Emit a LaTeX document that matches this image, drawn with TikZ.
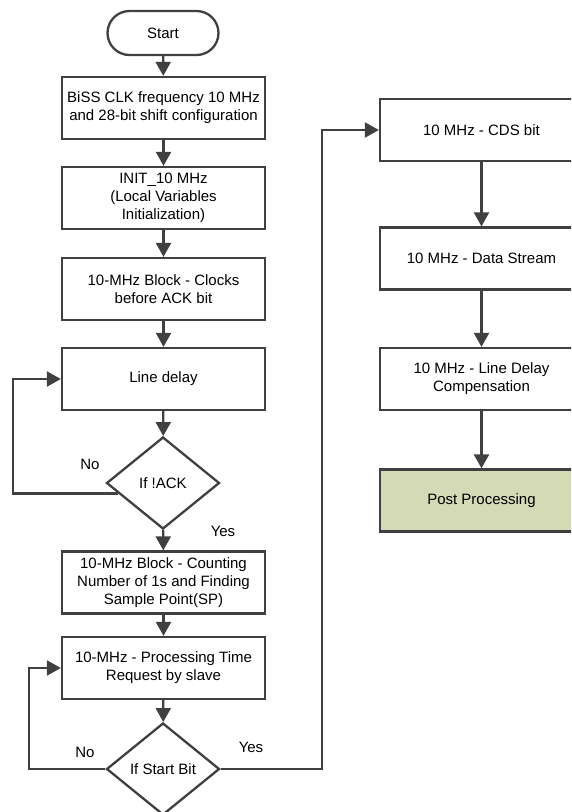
\documentclass[tikz,border=0pt]{standalone}
\usepackage{fontspec}
\setmainfont{Liberation Sans}
\usetikzlibrary{shapes.geometric,arrows.meta,calc}
\definecolor{ln}{HTML}{404040}
\definecolor{postfill}{HTML}{D3DAB5}
\begin{document}
\begin{tikzpicture}[x=1pt,y=-1pt,
  every node/.style={font=\fontsize{15}{18}\selectfont, text=black},
  box/.style={draw=ln, line width=2.3pt, rectangle, minimum width=203pt, minimum height=62pt, align=center, inner sep=2pt},
  term/.style={draw=ln, line width=2.3pt, rectangle, rounded corners=22pt, minimum width=111pt, minimum height=44pt},
  dec/.style={draw=ln, line width=2.3pt, diamond, minimum width=113pt, minimum height=92pt, inner sep=0pt},
  arr/.style={draw=ln, line width=2.3pt, -{Triangle[width=15pt,length=14pt]}},
  lbl/.style={inner sep=0pt}]
\clip (0,0) rectangle (571,812);
\fill[white] (0,0) rectangle (571,812);
\node[term] (start) at (163,33) {Start};
\node[box] (b1) at (163.5,108) {BiSS CLK frequency 10 MHz\\and 28-bit shift configuration};
\node[box] (b2) at (163.5,198) {INIT\_10 MHz\\(Local Variables\\Initialization)};
\node[box] (b3) at (163.5,289) {10-MHz Block - Clocks\\before ACK bit};
\node[box] (ld) at (163.5,379) {Line delay};
\node[dec] (ack) at (163,483) {If !ACK};
\node[box] (cnt) at (163.5,582.5) {10-MHz Block - Counting\\Number of 1s and Finding\\Sample Point(SP)};
\node[box] (proc) at (163.5,668) {10-MHz - Processing Time\\Request by slave};
\node[dec] (sb) at (163,769) {If Start Bit};
\node[box] (cds) at (481.5,130) {10 MHz - CDS bit};
\node[box] (ds) at (481.5,258.5) {10 MHz - Data Stream};
\node[box] (ldc) at (481.5,379) {10 MHz - Line Delay\\Compensation};
\node[box, fill=postfill] (post) at (481.5,500.5) {Post Processing};
\node[lbl] (no1) at (90,464) {No};
\node[lbl] (yes1) at (223,531) {Yes};
\node[lbl] (no2) at (85,752) {No};
\node[lbl] (yes2) at (251,747) {Yes};
\draw[arr] (start) -- (b1);
\draw[arr] (b1) -- (b2);
\draw[arr] (b2) -- (b3);
\draw[arr] (b3) -- (ld);
\draw[arr] (ld) -- (ack);
\draw[arr] (ack) -- (cnt);
\draw[arr] (cnt) -- (proc);
\draw[arr] (proc) -- (sb);
\coordinate (p1) at ($(ack.west)!0.22!(ack.south)$);
\draw[arr] (p1) -| ($(ld.west)+(-48,0)$) -- (ld.west);
\draw[arr] (sb.west) -| ($(proc.west)+(-32,0)$) -- (proc.west);
\draw[arr] (sb.east) -| ($(cds.west)+(-57,0)$) -- (cds.west);
\draw[arr] (cds) -- (ds);
\draw[arr] (ds) -- (ldc);
\draw[arr] (ldc) -- (post);
\end{tikzpicture}
\end{document}
